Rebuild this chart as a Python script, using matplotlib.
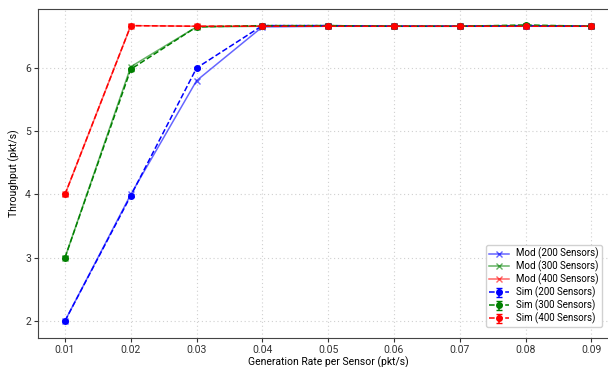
import matplotlib.pyplot as plt

plt.rcParams['font.family'] = ['Roboto', 'DejaVu Sans']

rates = [0.01, 0.02, 0.03, 0.04, 0.05, 0.06, 0.07, 0.08, 0.09]

mod_200 = [2.0, 4.0, 5.8, 6.65, 6.66, 6.66, 6.66, 6.66, 6.66]
mod_300 = [3.0, 6.02, 6.65, 6.66, 6.67, 6.66, 6.66, 6.67, 6.66]
mod_400 = [4.0, 6.67, 6.66, 6.66, 6.66, 6.66, 6.66, 6.66, 6.66]

sim_200 = [2.0, 3.98, 6.0, 6.67, 6.67, 6.66, 6.66, 6.67, 6.66]
sim_300 = [3.0, 5.98, 6.65, 6.67, 6.67, 6.66, 6.66, 6.68, 6.66]
sim_400 = [4.0, 6.67, 6.66, 6.66, 6.66, 6.66, 6.66, 6.66, 6.66]
sim_err = [0.02] * 9

fig = plt.figure(figsize=(6.08, 3.67), dpi=100)
ax = fig.add_axes([0.0625, 0.079, 0.9535, 0.896])

ax.plot(rates, mod_200, '-x', color='blue', alpha=0.6, lw=1.1, ms=4, label='Mod (200 Sensors)')
ax.plot(rates, mod_300, '-x', color='green', alpha=0.6, lw=1.1, ms=4, label='Mod (300 Sensors)')
ax.plot(rates, mod_400, '-x', color='red', alpha=0.6, lw=1.1, ms=4, label='Mod (400 Sensors)')

ax.errorbar(rates, sim_200, yerr=sim_err, fmt='--o', color='blue', lw=1.1, ms=4, capsize=2.5, label='Sim (200 Sensors)')
ax.errorbar(rates, sim_300, yerr=sim_err, fmt='--o', color='green', lw=1.1, ms=4, capsize=2.5, label='Sim (300 Sensors)')
ax.errorbar(rates, sim_400, yerr=sim_err, fmt='--o', color='red', lw=1.1, ms=4, capsize=2.5, label='Sim (400 Sensors)')

ax.set_xlim(0.0059, 0.094)
ax.set_ylim(1.73, 6.93)
ax.set_xticks(rates)
ax.set_yticks([2, 3, 4, 5, 6])
ax.tick_params(labelsize=7.5, colors='#333333', length=3, pad=2)
ax.set_xlabel('Generation Rate per Sensor (pkt/s)', fontsize=7.5, labelpad=1)
ax.set_ylabel('Throughput (pkt/s)', fontsize=7.5, labelpad=4)
ax.grid(True, linestyle=(0, (1, 2.5)), color='#d0d0d0', lw=0.8)
for s in ax.spines.values():
    s.set_color('#444444')

# keep the legend inside the picture
ax.legend(loc='lower right', fontsize=7, framealpha=0.9,
          handlelength=2, borderpad=0.3, labelspacing=0.15,
          bbox_to_anchor=(0.998, 0.095), bbox_transform=fig.transFigure)

fig.savefig('out.png', dpi=100)
